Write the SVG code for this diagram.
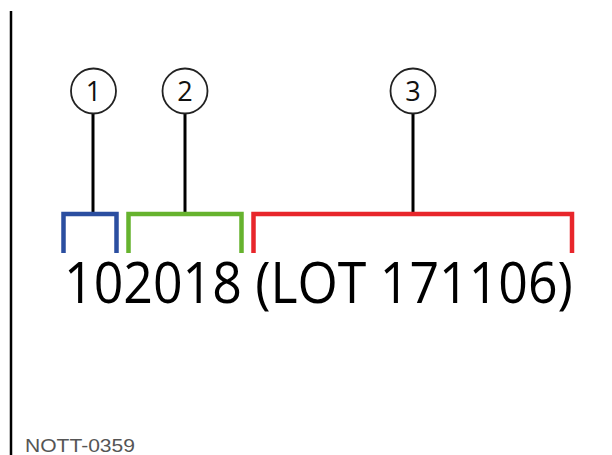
<svg xmlns="http://www.w3.org/2000/svg" width="612" height="455" viewBox="0 0 612 455">
<style>
.callout circle{fill:#fff;stroke:#222;stroke-width:1.8}
.callout text{font-family:"Open Sans","Noto Sans",sans-serif;font-size:27px;fill:#111;text-anchor:middle}
.leader{stroke:#000;stroke-width:3;fill:none}
.br{fill:none;stroke-width:4.5;stroke-linejoin:miter}
</style>
<rect width="612" height="455" fill="#fff"/>
<line x1="11" y1="11" x2="11" y2="455" stroke="#000" stroke-width="2.5"/>
<g id="connectors">
<line class="leader" x1="93" y1="113" x2="93" y2="214"/>
<line class="leader" x1="185" y1="113" x2="185" y2="214"/>
<line class="leader" x1="413" y1="113" x2="413" y2="214"/>
</g>
<g id="bracket1"><path class="br" stroke="#2b4ea0" d="M63.5 253V214H116.5V253"/></g>
<g id="bracket2"><path class="br" stroke="#66b32e" d="M128.5 253V214H241.5V253"/></g>
<g id="bracket3"><path class="br" stroke="#e8262b" d="M253.5 253V214H572V253"/></g>
<g id="callout1" class="callout"><circle cx="93.5" cy="91" r="22.5"/><text x="93.5" y="100.5">1</text></g>
<g id="callout2" class="callout"><circle cx="185" cy="91" r="22.5"/><text x="185" y="100.5">2</text></g>
<g id="callout3" class="callout"><circle cx="413" cy="91" r="22.5"/><text x="413" y="100.5">3</text></g>
<g id="code" transform="translate(64 303) scale(0.912 1)"><text x="0" y="0" font-family="'Open Sans','Noto Sans',sans-serif" font-size="57" fill="#000" textLength="558" lengthAdjust="spacingAndGlyphs">102018 (LOT 171106)</text></g>
<text x="25" y="452" font-family="'Liberation Sans',Arial,sans-serif" font-size="18" fill="#555" textLength="110" lengthAdjust="spacingAndGlyphs">NOTT-0359</text>
</svg>
